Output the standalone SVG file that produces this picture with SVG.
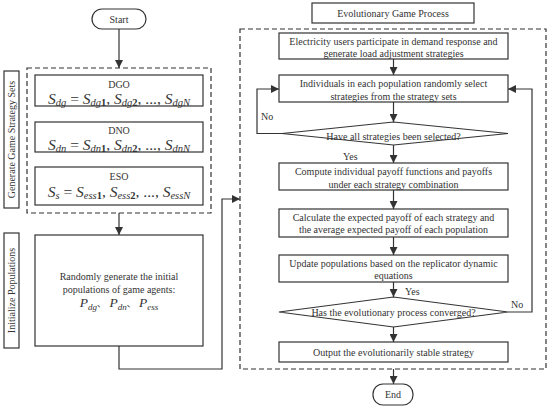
<svg xmlns="http://www.w3.org/2000/svg" width="550" height="410" viewBox="0 0 550 410">
<style>
.box{fill:#fff;stroke:#333;stroke-width:1.2}
.dash{fill:none;stroke:#333;stroke-width:1.2;stroke-dasharray:5,3}
.ln{fill:none;stroke:#333;stroke-width:1.2}
text{font-family:"Liberation Serif","Times New Roman",serif;fill:#333;font-size:10px}
.c{text-anchor:middle}
.m{font-style:italic;font-size:13.5px}
.mm{font-size:15.5px}
.s{font-size:9px}
.ss{font-size:10.5px}
.u{font-style:normal}
.b{font-weight:bold;font-style:normal}
</style>
<defs>
<marker id="ar" viewBox="0 0 10 10" refX="10" refY="5" markerWidth="8" markerHeight="8" markerUnits="userSpaceOnUse" orient="auto">
<path d="M0,0 L10,5 L0,10 z" fill="#333"/>
</marker>
</defs>
<g id="connectors">
<path class="ln" d="M119,29 V68" marker-end="url(#ar)"/>
<path class="ln" d="M119,213 V235" marker-end="url(#ar)"/>
<path class="ln" d="M119,346 V369 H222 V199 H240" marker-end="url(#ar)"/>
<path class="ln" d="M393.5,59 V75" marker-end="url(#ar)"/>
<path class="ln" d="M393.5,102 V122" marker-end="url(#ar)"/>
<path class="ln" d="M282,133.5 H257 V89 H279" marker-end="url(#ar)"/>
<path class="ln" d="M393.5,145 V163" marker-end="url(#ar)"/>
<path class="ln" d="M393.5,190 V209" marker-end="url(#ar)"/>
<path class="ln" d="M393.5,237 V255" marker-end="url(#ar)"/>
<path class="ln" d="M393.5,282 V297" marker-end="url(#ar)"/>
<path class="ln" d="M508,312 H532 V89 H508" marker-end="url(#ar)"/>
<path class="ln" d="M393.5,327 V342" marker-end="url(#ar)"/>
<path class="ln" d="M393.5,369 V384" marker-end="url(#ar)"/>
<text x="261" y="120">No</text>
<text x="343" y="160">Yes</text>
<text x="405" y="295">Yes</text>
<text x="511" y="308">No</text>
</g>
<g id="start">
<rect class="box" x="92" y="9" width="54" height="20" rx="10"/>
<text class="c" x="119" y="22.5">Start</text>
</g>
<g id="strategy-sets">
<rect class="dash" x="27" y="68" width="184" height="145"/>
<rect class="box" x="4" y="71" width="15" height="137"/>
<text class="c" transform="translate(15,139.5) rotate(-90)">Generate Game Strategy Sets</text>
</g>
<g id="dgo">
<rect class="box" x="35" y="75" width="168" height="31"/>
<text class="c" x="119" y="87.5">DGO</text>
<text class="c m mm" x="119" y="103.5">S<tspan class="ss" dy="2.5">dg</tspan><tspan class="u" dy="-2.5"> = </tspan>S<tspan class="ss" dy="2.5">dg</tspan><tspan class="ss b">1</tspan><tspan class="u" dy="-2.5">, </tspan>S<tspan class="ss" dy="2.5">dg</tspan><tspan class="ss b">2</tspan><tspan class="u" dy="-2.5">, ..., </tspan>S<tspan class="ss" dy="2.5">dgN</tspan></text>
</g>
<g id="dno">
<rect class="box" x="35" y="122" width="168" height="30"/>
<text class="c" x="119" y="134">DNO</text>
<text class="c m mm" x="119" y="149.5">S<tspan class="ss" dy="2.5">dn</tspan><tspan class="u" dy="-2.5"> = </tspan>S<tspan class="ss" dy="2.5">dn</tspan><tspan class="ss b">1</tspan><tspan class="u" dy="-2.5">, </tspan>S<tspan class="ss" dy="2.5">dn</tspan><tspan class="ss b">2</tspan><tspan class="u" dy="-2.5">, ..., </tspan>S<tspan class="ss" dy="2.5">dnN</tspan></text>
</g>
<g id="eso">
<rect class="box" x="35" y="167" width="168" height="38"/>
<text class="c" x="119" y="180">ESO</text>
<text class="c m mm" x="119" y="196.5">S<tspan class="ss" dy="2.5">s</tspan><tspan class="u" dy="-2.5"> = </tspan>S<tspan class="ss" dy="2.5">ess</tspan><tspan class="ss b">1</tspan><tspan class="u" dy="-2.5">, </tspan>S<tspan class="ss" dy="2.5">ess</tspan><tspan class="ss b">2</tspan><tspan class="u" dy="-2.5">, ..., </tspan>S<tspan class="ss" dy="2.5">essN</tspan></text>
</g>
<g id="init-label">
<rect class="box" x="4" y="233" width="15" height="115"/>
<text class="c" transform="translate(15,290.5) rotate(-90)">Initialize Populations</text>
</g>
<g id="init">
<rect class="box" x="35" y="235" width="168" height="111"/>
<text class="c" x="119" y="279.5">Randomly generate the initial</text>
<text class="c" x="119" y="292.5">populations of game agents:</text>
<text class="c m" x="119" y="307">P<tspan class="s" dy="2.5">dg</tspan><tspan class="u" dy="-2.5" style="font-family:'Noto Sans CJK SC',sans-serif;font-size:9px">、</tspan> P<tspan class="s" dy="2.5">dn</tspan><tspan class="u" dy="-2.5" style="font-family:'Noto Sans CJK SC',sans-serif;font-size:9px">、</tspan> P<tspan class="s" dy="2.5">ess</tspan></text>
</g>
<g id="egp-title">
<rect class="box" x="312" y="3" width="162" height="20"/>
<text class="c" x="393" y="16.5">Evolutionary Game Process</text>
</g>
<g id="egp">
<rect class="dash" x="240" y="29" width="306" height="340"/>
</g>
<g id="users">
<rect class="box" x="279" y="33" width="229" height="26"/>
<text class="c" x="393.5" y="45">Electricity users participate in demand response and</text>
<text class="c" x="393.5" y="57">generate load adjustment strategies</text>
</g>
<g id="select">
<rect class="box" x="279" y="75" width="229" height="27"/>
<text class="c" x="393.5" y="87">Individuals in each population randomly select</text>
<text class="c" x="393.5" y="99.5">strategies from the strategy sets</text>
</g>
<g id="all-selected">
<polygon class="box" points="282,133.5 393.5,122 508,133.5 393.5,145"/>
<text class="c" x="393.5" y="140">Have all strategies been selected?</text>
</g>
<g id="compute">
<rect class="box" x="279" y="163" width="229" height="27"/>
<text class="c" x="393.5" y="175">Compute individual payoff functions and payoffs</text>
<text class="c" x="393.5" y="187.5">under each strategy combination</text>
</g>
<g id="expected">
<rect class="box" x="279" y="209" width="229" height="28"/>
<text class="c" x="393.5" y="221">Calculate the expected payoff of each strategy and</text>
<text class="c" x="393.5" y="233">the average expected payoff of each population</text>
</g>
<g id="update">
<rect class="box" x="279" y="255" width="229" height="27"/>
<text class="c" x="393.5" y="266.5">Update populations based on the replicator dynamic</text>
<text class="c" x="393.5" y="279">equations</text>
</g>
<g id="converged">
<polygon class="box" points="279,312 393.5,297 508,312 393.5,327"/>
<text class="c" x="393.5" y="316">Has the evolutionary process converged?</text>
</g>
<g id="output">
<rect class="box" x="279" y="342" width="229" height="20"/>
<text class="c" x="393.5" y="355.5">Output the evolutionarily stable strategy</text>
</g>
<g id="end">
<rect class="box" x="373" y="384" width="40" height="21" rx="10"/>
<text class="c" x="393" y="398">End</text>
</g>
</svg>
